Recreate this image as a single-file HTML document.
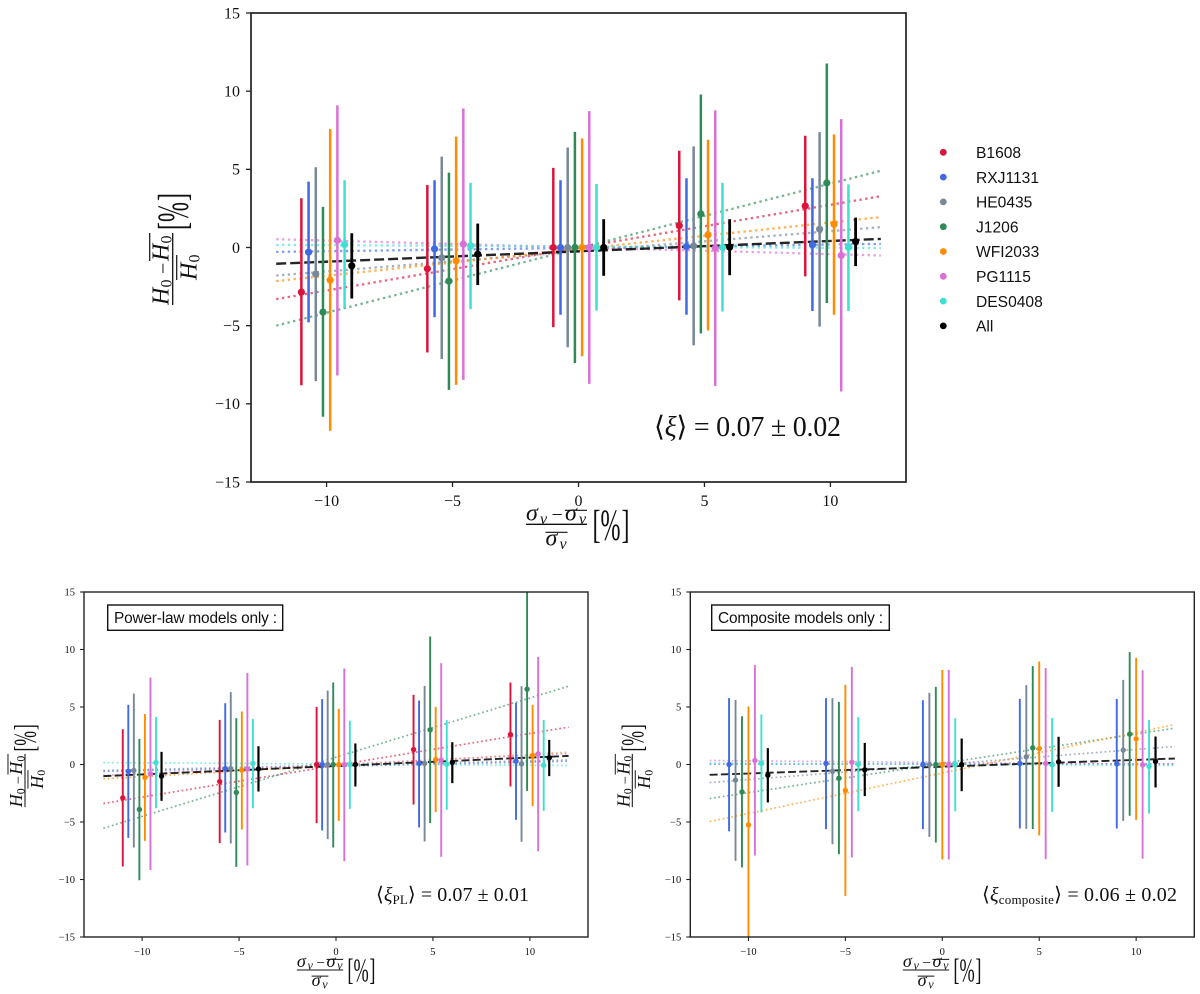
<!DOCTYPE html>
<html lang="en">
<head>
<meta charset="utf-8">
<title>H0 deviation versus velocity dispersion deviation</title>
<style>
html,body{margin:0;padding:0;background:#fff;}
svg{display:block;}
text{font-family:"Liberation Serif","DejaVu Serif",serif;fill:#111;}
.sans{font-family:"Liberation Sans","DejaVu Sans",sans-serif;}
.i{font-style:italic;}
</style>
</head>
<body>
<svg id="figure" xmlns="http://www.w3.org/2000/svg" width="1200" height="994" viewBox="0 0 1200 994">
<defs>
<clipPath id="clip-top"><rect x="251" y="13" width="655" height="469"/></clipPath>
<clipPath id="clip-pl"><rect x="84" y="592" width="504" height="345"/></clipPath>
<clipPath id="clip-comp"><rect x="690.3" y="592" width="504" height="345"/></clipPath>
</defs>

<g id="top-panel"></g>
<g id="pl-panel"></g>
<g id="comp-panel"></g>

<g transform="translate(172.7,269) rotate(-90)">
<line x1="-36" x2="36" y1="0" y2="0" stroke="#111" stroke-width="1.3"/>
<text class="i" x="-36" y="-4" font-size="24">H</text><text x="-18.5" y="-1" font-size="16">0</text>
<text x="-5" y="-3" font-size="20">−</text>
<text class="i" x="8" y="-4" font-size="24">H</text><text x="25.5" y="-1" font-size="16">0</text>
<line x1="8" x2="36" y1="-23" y2="-23" stroke="#111" stroke-width="1.2"/>
<line x1="-11" x2="14" y1="4" y2="4" stroke="#111" stroke-width="1.2"/>
<text class="i" x="-11" y="24" font-size="24">H</text><text x="6.5" y="27" font-size="16">0</text>
<text x="39" y="13" font-size="40" textLength="8" lengthAdjust="spacingAndGlyphs">[</text>
<text x="47" y="15" font-size="44" textLength="20" lengthAdjust="spacingAndGlyphs">%</text>
<text x="68" y="13" font-size="40" textLength="8" lengthAdjust="spacingAndGlyphs">]</text>
</g>

<g transform="translate(556.5,524.3)">
<line x1="-30.5" x2="30.5" y1="0" y2="0" stroke="#111" stroke-width="1.3"/>
<text class="i" x="-30.5" y="-4" font-size="24">σ</text><text class="i" x="-16.5" y="-0.5" font-size="16">v</text>
<text x="-5" y="-3.5" font-size="20">−</text>
<text class="i" x="8.5" y="-4" font-size="24">σ</text><text class="i" x="22.5" y="-0.5" font-size="16">v</text>
<line x1="8.5" x2="30.5" y1="-14" y2="-14" stroke="#111" stroke-width="1.2"/>
<line x1="-11" x2="11" y1="8" y2="8" stroke="#111" stroke-width="1.2"/>
<text class="i" x="-11" y="21" font-size="24">σ</text><text class="i" x="3" y="24.5" font-size="16">v</text>
<text x="36" y="13" font-size="40" textLength="8" lengthAdjust="spacingAndGlyphs">[</text>
<text x="44" y="15" font-size="44" textLength="20" lengthAdjust="spacingAndGlyphs">%</text>
<text x="65" y="13" font-size="40" textLength="8" lengthAdjust="spacingAndGlyphs">]</text>
</g>

<g transform="translate(25,780.5) rotate(-90) scale(.74)">
<line x1="-36" x2="36" y1="0" y2="0" stroke="#111" stroke-width="1.4"/>
<text class="i" x="-36" y="-4" font-size="24">H</text><text x="-18.5" y="-1" font-size="16">0</text>
<text x="-5" y="-3" font-size="20">−</text>
<text class="i" x="8" y="-4" font-size="24">H</text><text x="25.5" y="-1" font-size="16">0</text>
<line x1="8" x2="36" y1="-23" y2="-23" stroke="#111" stroke-width="1.3"/>
<line x1="-11" x2="14" y1="4" y2="4" stroke="#111" stroke-width="1.3"/>
<text class="i" x="-11" y="24" font-size="24">H</text><text x="6.5" y="27" font-size="16">0</text>
<text x="39" y="13" font-size="40" textLength="8" lengthAdjust="spacingAndGlyphs">[</text>
<text x="47" y="15" font-size="44" textLength="20" lengthAdjust="spacingAndGlyphs">%</text>
<text x="68" y="13" font-size="40" textLength="8" lengthAdjust="spacingAndGlyphs">]</text>
</g>

<g transform="translate(632.3,780.5) rotate(-90) scale(.74)">
<line x1="-36" x2="36" y1="0" y2="0" stroke="#111" stroke-width="1.4"/>
<text class="i" x="-36" y="-4" font-size="24">H</text><text x="-18.5" y="-1" font-size="16">0</text>
<text x="-5" y="-3" font-size="20">−</text>
<text class="i" x="8" y="-4" font-size="24">H</text><text x="25.5" y="-1" font-size="16">0</text>
<line x1="8" x2="36" y1="-23" y2="-23" stroke="#111" stroke-width="1.3"/>
<line x1="-11" x2="14" y1="4" y2="4" stroke="#111" stroke-width="1.3"/>
<text class="i" x="-11" y="24" font-size="24">H</text><text x="6.5" y="27" font-size="16">0</text>
<text x="39" y="13" font-size="40" textLength="8" lengthAdjust="spacingAndGlyphs">[</text>
<text x="47" y="15" font-size="44" textLength="20" lengthAdjust="spacingAndGlyphs">%</text>
<text x="68" y="13" font-size="40" textLength="8" lengthAdjust="spacingAndGlyphs">]</text>
</g>

<g transform="translate(320,970) scale(.76)">
<line x1="-30.5" x2="30.5" y1="0" y2="0" stroke="#111" stroke-width="1.4"/>
<text class="i" x="-30.5" y="-4" font-size="24">σ</text><text class="i" x="-16.5" y="-0.5" font-size="16">v</text>
<text x="-5" y="-3.5" font-size="20">−</text>
<text class="i" x="8.5" y="-4" font-size="24">σ</text><text class="i" x="22.5" y="-0.5" font-size="16">v</text>
<line x1="8.5" x2="30.5" y1="-14" y2="-14" stroke="#111" stroke-width="1.3"/>
<line x1="-11" x2="11" y1="8" y2="8" stroke="#111" stroke-width="1.3"/>
<text class="i" x="-11" y="21" font-size="24">σ</text><text class="i" x="3" y="24.5" font-size="16">v</text>
<text x="36" y="13" font-size="40" textLength="8" lengthAdjust="spacingAndGlyphs">[</text>
<text x="44" y="15" font-size="44" textLength="20" lengthAdjust="spacingAndGlyphs">%</text>
<text x="65" y="13" font-size="40" textLength="8" lengthAdjust="spacingAndGlyphs">]</text>
</g>

<g transform="translate(926,970) scale(.76)">
<line x1="-30.5" x2="30.5" y1="0" y2="0" stroke="#111" stroke-width="1.4"/>
<text class="i" x="-30.5" y="-4" font-size="24">σ</text><text class="i" x="-16.5" y="-0.5" font-size="16">v</text>
<text x="-5" y="-3.5" font-size="20">−</text>
<text class="i" x="8.5" y="-4" font-size="24">σ</text><text class="i" x="22.5" y="-0.5" font-size="16">v</text>
<line x1="8.5" x2="30.5" y1="-14" y2="-14" stroke="#111" stroke-width="1.3"/>
<line x1="-11" x2="11" y1="8" y2="8" stroke="#111" stroke-width="1.3"/>
<text class="i" x="-11" y="21" font-size="24">σ</text><text class="i" x="3" y="24.5" font-size="16">v</text>
<text x="36" y="13" font-size="40" textLength="8" lengthAdjust="spacingAndGlyphs">[</text>
<text x="44" y="15" font-size="44" textLength="20" lengthAdjust="spacingAndGlyphs">%</text>
<text x="65" y="13" font-size="40" textLength="8" lengthAdjust="spacingAndGlyphs">]</text>
</g>

<text x="654" y="436" font-size="28" textLength="187" lengthAdjust="spacing">⟨<tspan class="i">ξ</tspan>⟩ = 0.07 ± 0.02</text>

<text x="376" y="901" font-size="20" textLength="153" lengthAdjust="spacing">⟨<tspan class="i">ξ</tspan><tspan font-size="13" dy="3">PL</tspan><tspan dy="-3">⟩ = 0.07 ± 0.01</tspan></text>

<text x="982" y="901" font-size="20" textLength="195" lengthAdjust="spacing">⟨<tspan class="i">ξ</tspan><tspan font-size="13" dy="3">composite</tspan><tspan dy="-3">⟩ = 0.06 ± 0.02</tspan></text>

<g>
<rect x="107.7" y="605" width="175" height="25.3" fill="#fff" stroke="#111" stroke-width="1.4"/>
<text class="sans" x="114" y="623" font-size="15.4" textLength="163" lengthAdjust="spacing">Power-law models only :</text>
</g>
<g>
<rect x="711.7" y="605" width="177.6" height="25.3" fill="#fff" stroke="#111" stroke-width="1.4"/>
<text class="sans" x="718" y="623" font-size="15.4" textLength="165" lengthAdjust="spacing">Composite models only :</text>
</g>

<g id="legend"></g>
</svg>

<script>
const seriesNames = ["B1608", "RXJ1131", "HE0435", "J1206", "WFI2033", "PG1115", "DES0408", "All"];
const seriesColors = ["#DC143C", "#4169E1", "#778899", "#2E8B57", "#FF8C00", "#DA70D6", "#40E0D0", "#000000"];
const compositeNames = ["RXJ1131", "HE0435", "J1206", "WFI2033", "PG1115", "DES0408", "All"];
const compositeColors = ["#4169E1", "#778899", "#2E8B57", "#FF8C00", "#DA70D6", "#40E0D0", "#000000"];
const xCategories = [-10, -5, 0, 5, 10];
const xTickLabels = [-10, -5, 0, 5, 10];
const yTickLabels = [-15, -10, -5, 0, 5, 10, 15];

// Top panel: each row is one series, each column one x category
const topValues = [
  [-2.85, -1.36, 0, 1.40, 2.66],
  [-0.30, -0.09, 0, 0.06, 0.17],
  [-1.70, -0.66, 0, 0.10, 1.17],
  [-4.13, -2.15, 0, 2.15, 4.13],
  [-2.09, -0.85, 0, 0.81, 1.49],
  [0.45, 0.21, 0, -0.04, -0.51],
  [0.19, 0.11, 0, 0, 0],
  [-1.17, -0.43, 0, 0.02, 0.38]
];
const topUpper = [
  [3.15, 4.00, 5.09, 6.19, 7.15],
  [4.21, 4.30, 4.30, 4.43, 4.43],
  [5.13, 5.81, 6.40, 6.47, 7.38],
  [2.60, 4.79, 7.40, 9.79, 11.77],
  [7.57, 7.09, 6.98, 6.89, 7.23],
  [9.09, 8.89, 8.72, 8.77, 8.21],
  [4.30, 4.13, 4.06, 4.13, 4.04],
  [0.91, 1.53, 1.81, 1.81, 1.91]
];
const topLower = [
  [-8.81, -6.72, -5.09, -3.38, -1.85],
  [-4.79, -4.45, -4.30, -4.30, -4.06],
  [-8.55, -7.13, -6.38, -6.26, -5.06],
  [-10.83, -9.11, -7.40, -5.49, -3.55],
  [-11.72, -8.79, -6.96, -5.30, -4.30],
  [-8.19, -8.47, -8.72, -8.85, -9.21],
  [-3.87, -3.94, -4.04, -4.09, -4.06],
  [-3.26, -2.40, -1.81, -1.77, -1.19]
];
const topFitLeft = [-3.30, -0.28, -1.79, -5.00, -2.15, 0.53, 0.17, -1.04];
const topFitRight = [3.28, 0.23, 1.30, 4.91, 1.94, -0.51, -0.04, 0.55];

// Power-law panel
const plValues = [
  [-2.90, -1.48, 0, 1.30, 2.61],
  [-0.60, -0.35, 0, 0.09, 0.29],
  [-0.52, -0.35, 0, 0.09, 0.06],
  [-3.91, -2.43, 0, 3.01, 6.55],
  [-1.13, -0.49, 0, 0.43, 0.78],
  [-0.81, -0.38, 0, 0.38, 0.93],
  [0.17, 0.09, 0, 0.03, -0.06],
  [-1.01, -0.38, 0, 0.17, 0.58]
];
const plUpper = [
  [3.07, 3.88, 5.01, 6.06, 7.13],
  [5.19, 5.33, 5.68, 5.57, 5.36],
  [6.17, 6.29, 6.43, 6.84, 6.81],
  [2.23, 4.03, 7.13, 11.13, 16.00],
  [4.38, 4.61, 4.84, 5.01, 5.19],
  [7.57, 7.97, 8.35, 8.81, 9.36],
  [4.14, 3.97, 3.80, 3.86, 3.88],
  [1.10, 1.59, 1.83, 1.94, 2.14]
];
const plLower = [
  [-8.87, -6.84, -5.10, -3.48, -1.91],
  [-6.38, -5.91, -5.74, -5.48, -4.81],
  [-7.22, -6.87, -6.49, -6.70, -6.72],
  [-10.06, -8.90, -7.22, -5.10, -2.29],
  [-6.64, -5.65, -4.90, -4.14, -3.62],
  [-9.19, -8.78, -8.40, -8.03, -7.54],
  [-3.80, -3.80, -3.86, -3.94, -4.03],
  [-3.16, -2.35, -1.91, -1.62, -1.01]
];
const plFitLeft = [-3.39, -0.60, -0.52, -5.54, -1.25, -0.95, 0.17, -1.01];
const plFitRight = [3.25, 0.29, 0.40, 6.81, 1.07, 0.95, -0.09, 0.75];

// Composite panel
const compValues = [
  [0, 0.09, 0, 0.09, 0.06],
  [-1.36, -0.58, 0, 0.67, 1.25],
  [-2.38, -1.19, 0, 1.45, 2.64],
  [-5.25, -2.26, 0, 1.39, 2.23],
  [0.35, 0.20, 0, 0.09, -0.03],
  [0.09, 0.03, 0, -0.03, -0.17],
  [-0.93, -0.46, 0, 0.23, 0.26]
];
const compUpper = [
  [5.77, 5.77, 5.59, 5.71, 5.71],
  [5.62, 5.77, 6.23, 6.90, 7.36],
  [4.20, 5.45, 6.75, 8.55, 9.77],
  [5.04, 6.93, 8.23, 8.96, 9.28],
  [8.64, 8.49, 8.23, 8.38, 8.20],
  [4.35, 4.12, 4.03, 4.03, 3.88],
  [1.42, 1.88, 2.26, 2.41, 2.43]
];
const compLower = [
  [-5.80, -5.62, -5.62, -5.57, -5.57],
  [-8.38, -6.93, -6.29, -5.60, -4.90],
  [-8.96, -7.80, -6.78, -5.62, -4.46],
  [-16.00, -11.42, -8.26, -6.17, -4.81],
  [-7.91, -8.09, -8.26, -8.23, -8.20],
  [-4.17, -4.06, -4.06, -4.12, -4.26],
  [-3.30, -2.75, -2.32, -1.94, -2.00]
];
const compFitLeft = [0.03, -1.57, -2.96, -4.96, 0.35, 0.12, -0.90];
const compFitRight = [0.06, 1.57, 3.16, 3.48, 0.00, -0.09, 0.52];

const SVGNS = "http://www.w3.org/2000/svg";

function mk(parent, tag, attrs) {
  const node = document.createElementNS(SVGNS, tag);
  for (const k in attrs) node.setAttribute(k, attrs[k]);
  parent.appendChild(node);
  return node;
}

function fmt(v) {
  return v < 0 ? "\u2212" + Math.abs(v) : String(v);
}

function drawPanel(root, prefix, box, style, names, colors, values, upper, lower, fitLeft, fitRight) {
  const xMin = -13, xMax = 13, yMin = -15, yMax = 15;
  const fitXMin = -12, fitXMax = 12;
  const xScale = function (v) { return box.x + (v - xMin) / (xMax - xMin) * box.w; };
  const yScale = function (v) { return box.y + box.h - (v - yMin) / (yMax - yMin) * box.h; };
  const marks = mk(root, "g", { "clip-path": "url(#" + box.clip + ")" });
  
  
  const n = names.length;

  names.forEach(function (name, s) {
    if (name === "All") return;
    const fit = mk(marks, "line", {
      x1: xScale(fitXMin), x2: xScale(fitXMax),
      y1: yScale(fitLeft[s]), y2: yScale(fitRight[s]),
      stroke: colors[s], "stroke-width": style.fitW, "stroke-dasharray": style.dots, opacity: 0.65
    });
    
    
  });
  const allIndex = n - 1;
  const allFit = mk(marks, "line", {
    x1: xScale(fitXMin), x2: xScale(fitXMax),
    y1: yScale(fitLeft[allIndex]), y2: yScale(fitRight[allIndex]),
    stroke: "#000", "stroke-width": style.dashW, "stroke-dasharray": style.dash, opacity: 0.85
  });
  
  

  names.forEach(function (name, s) {
    const offset = -1 + 2 * s / (n - 1);
    xCategories.forEach(function (cat, c) {
      const px = xScale(cat + offset);
      const bar = mk(marks, "line", {
        x1: px, x2: px, y1: yScale(upper[s][c]), y2: yScale(lower[s][c]),
        stroke: colors[s], "stroke-width": name === "All" ? style.barW + 0.3 : style.barW
      });
      
      
      const dot = mk(marks, "circle", {
        cx: px, cy: yScale(values[s][c]), r: style.r, fill: colors[s]
      });
      
      
    });
  });

  const frame = mk(root, "rect", {
    x: box.x, y: box.y, width: box.w, height: box.h,
    fill: "none", stroke: "#222", "stroke-width": style.spine
  });
  
  

  xTickLabels.forEach(function (t) {
    const tick = mk(root, "line", {
      x1: xScale(t), x2: xScale(t), y1: box.y + box.h, y2: box.y + box.h + style.tick,
      stroke: "#222", "stroke-width": style.tickW
    });
    
    
    const label = mk(root, "text", {
      x: xScale(t), y: box.y + box.h + style.xLabelDy, "font-size": style.font, "text-anchor": "middle"
    });
    label.textContent = fmt(t);
    
    
  });
  yTickLabels.forEach(function (t) {
    const tick = mk(root, "line", {
      x1: box.x - style.tick, x2: box.x, y1: yScale(t), y2: yScale(t),
      stroke: "#222", "stroke-width": style.tickW
    });
    
    
    const label = mk(root, "text", {
      x: box.x - style.yLabelDx, y: yScale(t) + style.font * 0.33, "font-size": style.font, "text-anchor": "end"
    });
    label.textContent = fmt(t);
    
    
  });
}

const bigStyle = { fitW: 2.3, dots: "2.4 3.4", dashW: 2.4, dash: "10 4", barW: 2.5, r: 3.6, spine: 1.7, tick: 5, tickW: 1.3, font: 16, xLabelDy: 24, yLabelDx: 11 };
const smallStyle = { fitW: 1.7, dots: "1.7 2.7", dashW: 1.9, dash: "8 3.2", barW: 1.9, r: 2.7, spine: 1.4, tick: 4, tickW: 1.1, font: 10.5, xLabelDy: 18, yLabelDx: 9 };

drawPanel(document.getElementById("top-panel"), "top", { x: 251, y: 13, w: 655, h: 469, clip: "clip-top" }, bigStyle, seriesNames, seriesColors, topValues, topUpper, topLower, topFitLeft, topFitRight);
drawPanel(document.getElementById("pl-panel"), "power-law", { x: 84, y: 592, w: 504, h: 345, clip: "clip-pl" }, smallStyle, seriesNames, seriesColors, plValues, plUpper, plLower, plFitLeft, plFitRight);
drawPanel(document.getElementById("comp-panel"), "composite", { x: 690.3, y: 592, w: 504, h: 345, clip: "clip-comp" }, smallStyle, compositeNames, compositeColors, compValues, compUpper, compLower, compFitLeft, compFitRight);

const legendRoot = document.getElementById("legend");
seriesNames.forEach(function (name, i) {
  const entry = mk(legendRoot, "g", {});
  
  
  const swatch = mk(entry, "circle", { cx: 943.3, cy: 152.3 + i * 24.8, r: 3.4, fill: seriesColors[i] });
  
  
  const label = mk(entry, "text", { x: 976, y: 158 + i * 24.8, "font-size": 15.6, class: "sans" });
  label.textContent = name;
  
  
});
</script>
</body>
</html>
